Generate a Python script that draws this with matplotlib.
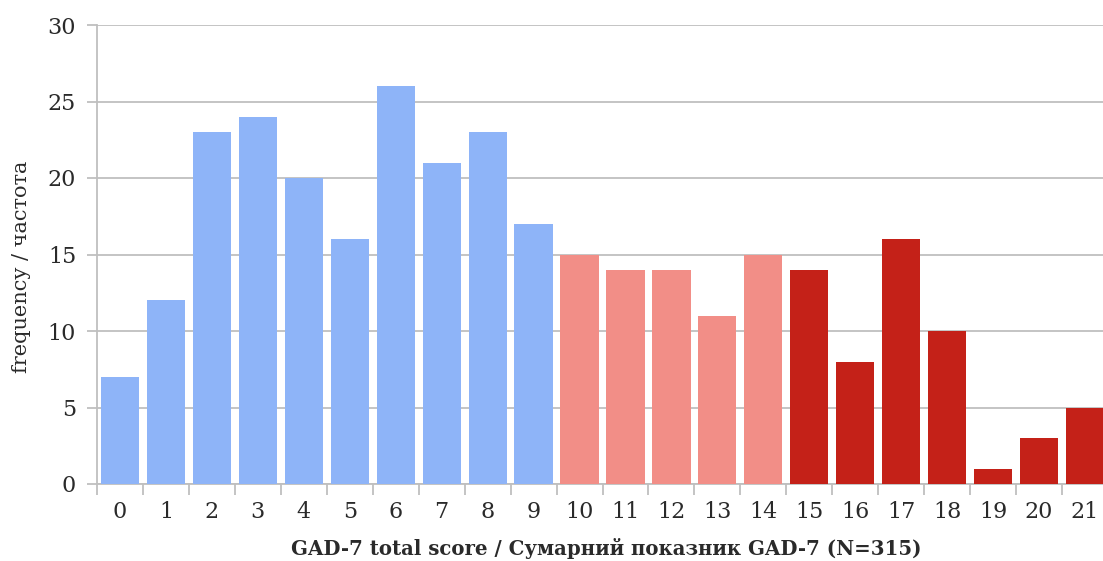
import matplotlib
matplotlib.use("Agg")
import matplotlib.pyplot as plt

scores = list(range(22))
freq = [7, 12, 23, 24, 20, 16, 26, 21, 23, 17, 15, 14, 14, 11, 15, 14, 8, 16, 10, 1, 3, 5]
tick_labels = [str(s) for s in scores]
c_low, c_mid, c_high = "#8EB4F8", "#F28E87", "#C42118"
colors = [c_low if s < 10 else (c_mid if s < 15 else c_high) for s in scores]

plt.rcParams['font.family'] = ['DejaVu Serif']

fig = plt.figure(figsize=(11.03, 5.61), dpi=100)
W, H = 1103, 561
left, right, top, bottom = 97, 1108, 25, 484
ax = fig.add_axes([left / W, 1 - bottom / H, (right - left) / W, (bottom - top) / H])

ax.bar(scores, freq, width=0.83, color=colors, zorder=3)
ax.set_xlim(-0.5, 21.5)
ax.set_ylim(0, 30)
ax.set_yticks(range(0, 31, 5))
ax.set_xticks(scores)
ax.set_xticklabels(tick_labels)
ax.set_xticks([s - 0.5 for s in scores] + [21.5], minor=True)

grid_c = "#BFBFBF"
ax.yaxis.grid(True, color=grid_c, linewidth=1.3, zorder=0)
for sp in ["top", "right"]:
    ax.spines[sp].set_visible(False)
for sp in ["left", "bottom"]:
    ax.spines[sp].set_color(grid_c)
    ax.spines[sp].set_linewidth(1.3)

ax.tick_params(axis="y", which="major", length=7, width=1.3, color=grid_c,
               labelsize=16, labelcolor="#2a2a2a", pad=8)
ax.tick_params(axis="x", which="major", length=0, labelsize=16,
               labelcolor="#2a2a2a", pad=12)
ax.tick_params(axis="x", which="minor", length=8, width=1.3, color=grid_c)

ax.set_ylabel("frequency / частота", fontsize=15, color="#2a2a2a")
ax.yaxis.set_label_coords(-0.065, (bottom - 267) / (bottom - top))
ax.set_xlabel("GAD-7 total score / Сумарний показник GAD-7 (N=315)",
              fontsize=14.2, fontweight="bold", color="#2a2a2a")
ax.xaxis.set_label_coords((606 - left) / (right - left), -0.118)

fig.savefig("out.png", dpi=100)
